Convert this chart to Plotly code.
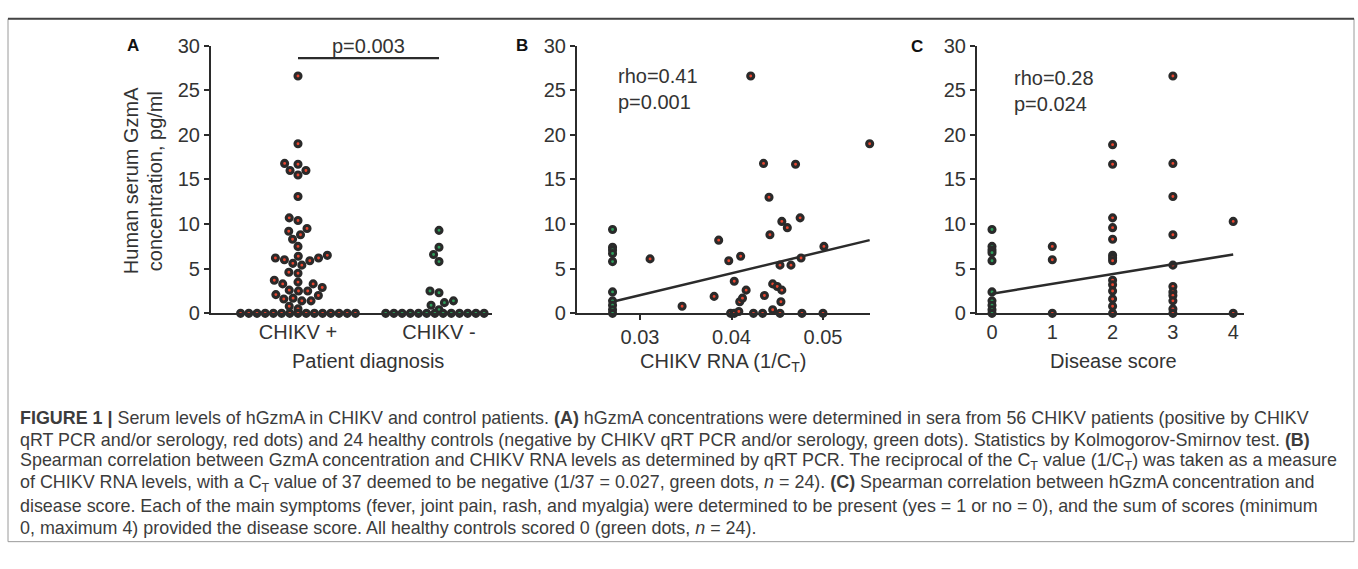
import math
import plotly.graph_objects as go

W, H = 1358, 569

# ---------------- data ----------------
# Panel A: serum GzmA (pg/ml)
chikv_pos = [26.6, 19.0, 16.8, 16.7, 16.0, 16.0, 15.5, 13.1, 10.7, 10.4, 9.5, 9.2, 8.8, 8.3,
             7.5, 6.5, 6.4, 6.2, 6.2, 6.0, 5.9, 5.6, 5.4, 4.6, 4.5, 3.7, 3.5, 3.3, 3.3, 2.9,
             2.6, 2.5, 2.5, 2.1, 2.0, 1.7, 1.6, 1.4, 1.4, 0.8, 0.5,
             0, 0, 0, 0, 0, 0, 0, 0, 0, 0, 0, 0, 0, 0, 0]
chikv_neg = [9.3, 7.4, 6.6, 5.8, 2.5, 2.3, 1.4, 1.2, 0.9, 0.4,
             0, 0, 0, 0, 0, 0, 0, 0, 0, 0, 0, 0, 0, 0]
groups = ["CHIKV +", "CHIKV -"]

# Panel B: CHIKV RNA (1/Ct) vs GzmA
rna_pos_x = [0.0311, 0.0346, 0.0381, 0.0386, 0.0397, 0.0403, 0.0399, 0.0403, 0.0408, 0.0410,
             0.0409, 0.0412, 0.0416, 0.0424, 0.0434, 0.0436, 0.0441, 0.0442, 0.0445, 0.0453,
             0.0445, 0.0450, 0.0455, 0.0454, 0.0453, 0.0455, 0.0461, 0.0465, 0.0475, 0.0476,
             0.0477, 0.0500, 0.0501, 0.0421, 0.0435, 0.0470, 0.0551]
rna_pos_y = [6.1, 0.8, 1.9, 8.2, 5.9, 3.6, 0.0, 0.0, 0.2, 6.4,
             1.3, 1.7, 2.6, 0.0, 0.0, 2.0, 13.0, 8.8, 0.4, 0.0,
             3.3, 3.0, 2.6, 1.3, 5.4, 10.3, 9.6, 5.4, 10.7, 6.2,
             0.0, 0.0, 7.5, 26.6, 16.8, 16.7, 19.0]
rna_neg_x = [0.027] * 10
rna_neg_y = [9.4, 7.4, 7.1, 6.7, 5.8, 2.4, 1.4, 0.9, 0.4, 0.0]
fit_b_slope, fit_b_intercept = 245.6, -5.33

# Panel C: disease score vs GzmA
score_pos_x = [1, 1, 1,
               2, 2, 2, 2, 2, 2, 2, 2, 2, 2, 2, 2, 2, 2,
               3, 3, 3, 3, 3, 3, 3, 3, 3, 3, 3,
               4, 4]
score_pos_y = [7.5, 6.0, 0.0,
               18.9, 16.7, 10.7, 9.6, 8.3, 6.5, 6.2, 5.9, 3.7, 3.2, 2.5, 1.6, 0.8, 0.0,
               26.6, 16.8, 13.1, 8.8, 5.4, 3.0, 2.4, 2.0, 1.4, 0.5, 0.0,
               10.3, 0.0]
score_neg_x = [0] * 10
score_neg_y = [9.4, 7.5, 7.1, 6.8, 5.9, 2.4, 1.4, 0.9, 0.4, 0.0]
fit_c_slope, fit_c_intercept = 1.1, 2.2

y_ticks = [0, 5, 10, 15, 20, 25, 30]
rna_ticks = [0.03, 0.04, 0.05]
score_ticks = [0, 1, 2, 3, 4]

caption_lines = [
    "<b>FIGURE 1 |</b> Serum levels of hGzmA in CHIKV and control patients. <b>(A)</b> hGzmA concentrations were determined in sera from 56 CHIKV patients (positive by CHIKV",
    "qRT PCR and/or serology, red dots) and 24 healthy controls (negative by CHIKV qRT PCR and/or serology, green dots). Statistics by Kolmogorov-Smirnov test. <b>(B)</b>",
    "Spearman correlation between GzmA concentration and CHIKV RNA levels as determined by qRT PCR. The reciprocal of the C<sub>T</sub> value (1/C<sub>T</sub>) was taken as a measure",
    "of CHIKV RNA levels, with a C<sub>T</sub> value of 37 deemed to be negative (1/37 = 0.027, green dots, <i>n</i> = 24). <b>(C)</b> Spearman correlation between hGzmA concentration and",
    "disease score. Each of the main symptoms (fever, joint pain, rash, and myalgia) were determined to be present (yes = 1 or no = 0), and the sum of scores (minimum",
    "0, maximum 4) provided the disease score. All healthy controls scored 0 (green dots, <i>n</i> = 24).",
]

# ---------------- layout helpers ----------------
def px_x(p):
    return p / W

def px_y(p):
    return 1 - p / H

Y_TOP, Y_BOT = 36, 314.5
A_L, A_R = 211, 492
B_L, B_R = 577, 870
C_L, C_R = 977, 1244
A_C0, A_C1 = 298, 439
B_03, B_PX = 640, 9150.0
C_0, C_PX = 992, 60.3
PX_PER_Y = (Y_BOT - Y_TOP) / 30.0

a_px_unit = A_C1 - A_C0
a_range = [-(A_C0 - A_L) / a_px_unit, 1 + (A_R - A_C1) / a_px_unit]
b_range = [0.03 - (B_03 - B_L) / B_PX, 0.03 + (B_R - B_03) / B_PX]
c_range = [-(C_0 - C_L) / C_PX, (C_R - C_0) / C_PX]


def beeswarm(values, diam, row_gap):
    """Swarm offsets (px): non-zero values collide with each other; zeros form one row."""
    xs = [0.0] * len(values)
    zeros = [i for i, v in enumerate(values) if v == 0]
    n0 = len(zeros)
    for k, i in enumerate(zeros):
        xs[i] = (k - (n0 - 1) / 2.0) * row_gap
    order = sorted([i for i, v in enumerate(values) if v != 0], key=lambda i: values[i])
    placed = []
    for i in order:
        y = values[i] * PX_PER_Y
        cands = [0.0]
        for (qx, qy) in placed:
            dy = abs(qy - y)
            if dy < diam:
                dx = math.sqrt(diam ** 2 - dy ** 2)
                cands += [qx + dx, qx - dx]
        cands.sort(key=lambda c: (abs(c), c))
        chosen = 0.0
        for c in cands:
            if all((c - qx) ** 2 + (y - qy) ** 2 >= diam ** 2 - 1e-6 for qx, qy in placed):
                chosen = c
                break
        placed.append((chosen, y))
        xs[i] = chosen
    return xs


RED = "#e8452f"
GREEN = "#2e9e5b"
RING = "#2a2a2a"
AXC = "#2b2b2b"
FONT = "Liberation Sans, Arial, sans-serif"


def mk(color):
    return dict(size=6, color=color, line=dict(color=RING, width=3.1))


fig = go.Figure()

# Panel A
off_pos = beeswarm(chikv_pos, 9.2, 8.2)
off_neg = beeswarm(chikv_neg, 9.2, 8.2)
fig.add_trace(go.Scatter(x=[0 + o / a_px_unit for o in off_pos], y=chikv_pos, mode="markers",
                         marker=mk(RED), cliponaxis=False, xaxis="x", yaxis="y", showlegend=False))
fig.add_trace(go.Scatter(x=[1 + o / a_px_unit for o in off_neg], y=chikv_neg, mode="markers",
                         marker=mk(GREEN), cliponaxis=False, xaxis="x", yaxis="y", showlegend=False))

# Panel B
bx_all = rna_pos_x + rna_neg_x
bx0, bx1 = min(bx_all), max(bx_all)
fig.add_trace(go.Scatter(x=[bx0, bx1], y=[fit_b_intercept + fit_b_slope * bx0, fit_b_intercept + fit_b_slope * bx1],
                         mode="lines", line=dict(color=AXC, width=2.5), cliponaxis=False,
                         xaxis="x2", yaxis="y2", showlegend=False))
fig.add_trace(go.Scatter(x=rna_neg_x, y=rna_neg_y, mode="markers", marker=mk(GREEN), cliponaxis=False,
                         xaxis="x2", yaxis="y2", showlegend=False))
fig.add_trace(go.Scatter(x=rna_pos_x, y=rna_pos_y, mode="markers", marker=mk(RED), cliponaxis=False,
                         xaxis="x2", yaxis="y2", showlegend=False))

# Panel C
cx_all = score_pos_x + score_neg_x
cx0, cx1 = min(cx_all), max(cx_all)
fig.add_trace(go.Scatter(x=score_neg_x, y=score_neg_y, mode="markers", marker=mk(GREEN), cliponaxis=False,
                         xaxis="x3", yaxis="y3", showlegend=False))
fig.add_trace(go.Scatter(x=score_pos_x, y=score_pos_y, mode="markers", marker=mk(RED), cliponaxis=False,
                         xaxis="x3", yaxis="y3", showlegend=False))
fig.add_trace(go.Scatter(x=[cx0, cx1], y=[fit_c_intercept + fit_c_slope * cx0, fit_c_intercept + fit_c_slope * cx1],
                         mode="lines", line=dict(color=AXC, width=2.5), cliponaxis=False,
                         xaxis="x3", yaxis="y3", showlegend=False))

tickfont = dict(family=FONT, size=20, color="#333333")
ydom = [px_y(Y_BOT), px_y(Y_TOP)]


def yax(anchor):
    return dict(domain=ydom, range=[0, 30], tickvals=y_ticks, ticks="outside", ticklen=5,
                tickwidth=2, tickcolor=AXC, showline=True, linecolor=AXC, linewidth=2.2,
                showgrid=False, zeroline=False, anchor=anchor, tickfont=tickfont, fixedrange=True)


def xax(dom, rng, tv, tt, anchor, ticks):
    return dict(domain=dom, range=rng, tickvals=tv, ticktext=tt, ticks=ticks, ticklen=5,
                tickwidth=2, tickcolor=AXC, showline=True, linecolor=AXC, linewidth=2.2,
                showgrid=False, zeroline=False, anchor=anchor, tickfont=tickfont, fixedrange=True)


annotations = []


def txt(x, y, s, size=20, xanchor="center", yanchor="middle", align="center", angle=0, color="#333333"):
    annotations.append(dict(x=px_x(x), y=px_y(y), xref="paper", yref="paper", text=s, showarrow=False,
                            xanchor=xanchor, yanchor=yanchor, align=align, textangle=angle,
                            font=dict(family=FONT, size=size, color=color)))


# panel letters
txt(133, 36, "<b>A</b>", size=17, color="#111111")
txt(522, 36, "<b>B</b>", size=17, color="#111111")
txt(917, 37, "<b>C</b>", size=17, color="#111111")

# y title
txt(131, 177, "Human serum GzmA", angle=-90)
txt(155, 177, "concentration, pg/ml", angle=-90)

# x titles
txt(368, 364, "Patient diagnosis")
txt(723, 366, "CHIKV RNA (1/C<sub>T</sub>)")
txt(1113, 364, "Disease score")

# stats text
annotations.append(dict(x=0.5, y=30.0, xref="x", yref="y", text="p=0.003", showarrow=False,
                        xanchor="center", yanchor="middle", font=dict(family=FONT, size=20, color="#333333")))
txt(616, 81, "rho=0.41<br>p=0.001", xanchor="left", align="left")
txt(1012, 83, "rho=0.28<br>p=0.024", xanchor="left", align="left")

# caption
for i, line in enumerate(caption_lines):
    txt(18, 423 + 23 * i, line, size=17.9, xanchor="left", align="left", color="#3c3c3c")

shapes = [
    dict(type="line", xref="x", yref="y", x0=0, x1=1, y0=28.6, y1=28.6, line=dict(color=AXC, width=2.2)),
    dict(type="rect", xref="paper", yref="paper", x0=px_x(8), x1=px_x(1354), y0=px_y(552), y1=px_y(8),
         line=dict(color="#9a9a9a", width=1)),
    dict(type="line", xref="paper", yref="paper", x0=px_x(8), x1=px_x(1354), y0=px_y(8), y1=px_y(8),
         line=dict(color="#444444", width=2)),
]

fig.update_layout(
    width=W, height=H, margin=dict(l=0, r=0, t=0, b=0),
    paper_bgcolor="white", plot_bgcolor="white",
    xaxis=xax([px_x(A_L), px_x(A_R)], a_range, [0, 1], groups, "y", ""),
    yaxis=yax("x"),
    xaxis2=xax([px_x(B_L), px_x(B_R)], b_range, rna_ticks, ["0.03", "0.04", "0.05"], "y2", "outside"),
    yaxis2=yax("x2"),
    xaxis3=xax([px_x(C_L), px_x(C_R)], c_range, score_ticks, [str(v) for v in score_ticks], "y3", ""),
    yaxis3=yax("x3"),
    annotations=annotations, shapes=shapes,
)

fig.write_html("out.html", config={"displayModeBar": False},
               post_script="document.body.style.margin='0px';")
